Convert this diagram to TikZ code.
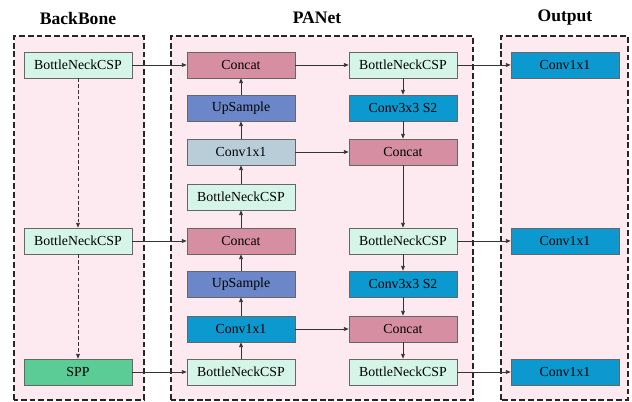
\documentclass[tikz,border=0pt]{standalone}
\usepackage{fontspec}
\setmainfont{Liberation Serif}
\usepackage{tikz}
\usetikzlibrary{arrows.meta}
\definecolor{mint}{HTML}{D5F5E9}
\definecolor{rose}{HTML}{D68EA2}
\definecolor{steel}{HTML}{6B87C9}
\definecolor{haze}{HTML}{B9CDD9}
\definecolor{cyanblk}{HTML}{0C99CF}
\definecolor{jade}{HTML}{5CCC96}
\definecolor{blush}{HTML}{FDEAF0}

\begin{document}
\begin{tikzpicture}[x=0.03cm,y=0.03cm,
  blk/.style={draw=black!60,line width=0.6pt,minimum width=3.24cm,minimum height=0.78cm,inner sep=0pt,font=\fontsize{11.8}{13}\selectfont},
  csp/.style={blk,fill=mint},
  cat/.style={blk,fill=rose},
  ups/.style={blk,fill=steel},
  cnv/.style={blk,fill=cyanblk},
  stage/.style={draw=black!85,dash pattern=on 5pt off 2.5pt,line width=1.3pt,fill=blush},
  title/.style={font=\bfseries\fontsize{15}{17}\selectfont},
  link/.style={-{Triangle[length=4pt,width=3.2pt]},line width=0.6pt,black!80},
]
\useasboundingbox (0,0) rectangle (632,402);
% stage frames
\draw[stage] (14,2) rectangle (144,366);
\draw[stage] (171,2) rectangle (473,366);
\draw[stage] (501,2) rectangle (628,366);
\node[title] (tBack) at (78,384) {BackBone};
\node[title] (tPan) at (317,384) {PANet};
\node[title] (tOut) at (565,384) {Output};
% backbone
\node[csp] (bbTop) at (78,337) {BottleNeckCSP};
\node[csp] (bbMid) at (78,161) {BottleNeckCSP};
\node[blk,fill=jade] (spp) at (78,30) {SPP};
% panet, top-down path
\node[cat] (lConcatA) at (241,337) {Concat};
\node[ups] (lUpA) at (241,294) {UpSample};
\node[blk,fill=haze] (lConvA) at (241,250) {Conv1x1};
\node[csp] (lCspA) at (241,205) {BottleNeckCSP};
\node[cat] (lConcatB) at (241,161) {Concat};
\node[ups] (lUpB) at (241,118) {UpSample};
\node[cnv] (lConvB) at (241,73) {Conv1x1};
\node[csp] (lCspB) at (241,30) {BottleNeckCSP};
% panet, bottom-up path
\node[csp] (rCspA) at (403,337) {BottleNeckCSP};
\node[cnv] (rConvA) at (403,294) {Conv3x3 S2};
\node[cat] (rConcatA) at (403,250) {Concat};
\node[csp] (rCspB) at (403,161) {BottleNeckCSP};
\node[cnv] (rConvB) at (403,118) {Conv3x3 S2};
\node[cat] (rConcatB) at (403,73) {Concat};
\node[csp] (rCspC) at (403,30) {BottleNeckCSP};
% heads
\node[cnv] (outA) at (565,337) {Conv1x1};
\node[cnv] (outB) at (565,161) {Conv1x1};
\node[cnv] (outC) at (565,30) {Conv1x1};

\draw[link,dash pattern=on 3pt off 2pt] (bbTop) -- (bbMid);
\draw[link,dash pattern=on 3pt off 2pt] (bbMid) -- (spp);
\draw[link] (bbTop) -- (lConcatA);
\draw[link] (bbMid) -- (lConcatB);
\draw[link] (spp) -- (lCspB);
\draw[link] (lCspB) -- (lConvB);
\draw[link] (lConvB) -- (lUpB);
\draw[link] (lUpB) -- (lConcatB);
\draw[link] (lConcatB) -- (lCspA);
\draw[link] (lCspA) -- (lConvA);
\draw[link] (lConvA) -- (lUpA);
\draw[link] (lUpA) -- (lConcatA);
\draw[link] (lConcatA) -- (rCspA);
\draw[link] (rCspA) -- (rConvA);
\draw[link] (rConvA) -- (rConcatA);
\draw[link] (lConvA) -- (rConcatA);
\draw[link] (rConcatA) -- (rCspB);
\draw[link] (rCspB) -- (rConvB);
\draw[link] (rConvB) -- (rConcatB);
\draw[link] (lConvB) -- (rConcatB);
\draw[link] (rConcatB) -- (rCspC);
\draw[link] (rCspA) -- (outA);
\draw[link] (rCspB) -- (outB);
\draw[link] (rCspC) -- (outC);
\end{tikzpicture}
\end{document}
